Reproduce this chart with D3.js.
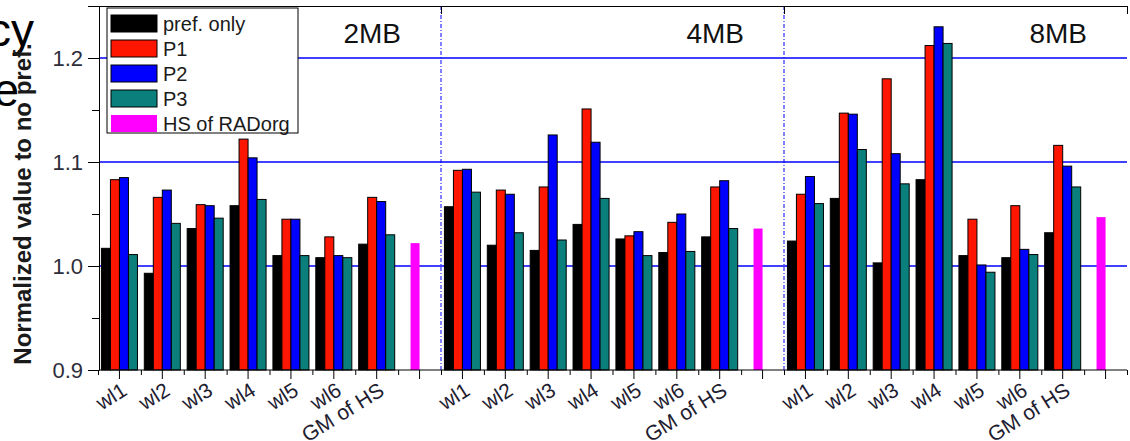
<!DOCTYPE html>
<html>
<head>
<meta charset="utf-8">
<script src="https://cdn.jsdelivr.net/npm/d3@7"></script>
<style>
  body { margin: 0; background: #fff; }
  text { font-family: "Liberation Sans", Arial, sans-serif; }
</style>
</head>
<body>
<div id="chart"></div>
<script>
// cache sizes, series per workload (2MB, 4MB, 8MB blocks of 7)
const sections = ["2MB", "4MB", "8MB"];
const workloads = ["wl1", "wl2", "wl3", "wl4", "wl5", "wl6", "GM of HS"];
const seriesNames = ["pref. only", "P1", "P2", "P3"];
const hsName = "HS of RADorg";

const prefOnly = [1.017, 0.993, 1.036, 1.058, 1.010, 1.008, 1.021,
                  1.057, 1.020, 1.015, 1.040, 1.026, 1.013, 1.028,
                  1.024, 1.065, 1.003, 1.083, 1.010, 1.008, 1.032];
const p1 = [1.083, 1.066, 1.059, 1.122, 1.045, 1.028, 1.066,
            1.092, 1.073, 1.076, 1.151, 1.029, 1.042, 1.076,
            1.069, 1.147, 1.180, 1.212, 1.045, 1.058, 1.116];
const p2 = [1.085, 1.073, 1.058, 1.104, 1.045, 1.010, 1.062,
            1.093, 1.069, 1.126, 1.119, 1.033, 1.050, 1.082,
            1.086, 1.146, 1.108, 1.230, 1.001, 1.016, 1.096];
const p3 = [1.011, 1.041, 1.046, 1.064, 1.010, 1.008, 1.030,
            1.071, 1.032, 1.025, 1.065, 1.010, 1.014, 1.036,
            1.060, 1.112, 1.079, 1.214, 0.994, 1.011, 1.076];
const hsRadorg = [1.022, 1.036, 1.047];

const yMajorTicks = [0.9, 1.0, 1.1, 1.2];
const yMinorTicks = [0.95, 1.05, 1.15];
const gridValues = [1.0, 1.1, 1.2];

(function() {
    const width = 1130
    const height = 441

    const svg = d3.select("#chart")
        .append("svg")
        .attr("width", width)
        .attr("height", height)

    // leftover slide text peeking in on the left
    svg.append("text").attr("x", 34).attr("y", 46)
        .attr("text-anchor", "end").style("font-size", "46px").attr("fill", "#000").text("cy");
    svg.append("text").attr("x", 19).attr("y", 106)
        .attr("text-anchor", "end").style("font-size", "46px").attr("fill", "#000").text("e");

    // one slot per workload plus one for the HS bar, in every section
    const slots = [];
    sections.forEach(s => {
        workloads.forEach(w => slots.push(s + "|" + w));
        slots.push(s + "|HS");
    });

    const x0 = d3.scaleBand().domain(slots).range([98, 1127]);
    const x1 = d3.scaleBand().domain(seriesNames).range([0, x0.bandwidth()]).paddingOuter(0.38);
    const xLin = d3.scaleLinear().domain([0, slots.length]).range([98, 1127]);
    const y = d3.scaleLinear().domain([0.9, 1.25]).range([370, 6]);

    const color = d3.scaleOrdinal()
        .domain(seriesNames.concat([hsName]))
        .range(["#000000", "#ff1600", "#0000ff", "#0b7f7b", "#ff00ff"]);

    // build rows for the bars
    const seriesData = [prefOnly, p1, p2, p3];
    const bars = [];
    sections.forEach((s, si) => {
        workloads.forEach((w, wi) => {
            seriesNames.forEach((name, k) => {
                bars.push({slot: s + "|" + w, series: name, value: seriesData[k][si * 7 + wi]});
            });
        });
    });
    const hsBars = sections.map((s, si) => ({slot: s + "|HS", value: hsRadorg[si]}));

    // blue grid lines
    svg.selectAll(".grid")
        .data(gridValues)
        .join("line")
        .attr("x1", 99).attr("x2", 1127)
        .attr("y1", d => y(d)).attr("y2", d => y(d))
        .attr("stroke", "#0000ff")
        .attr("stroke-width", 1.3);

    // dash-dot separators between cache sizes
    svg.selectAll(".sep")
        .data(sections.slice(1))
        .join("line")
        .attr("x1", (d, i) => xLin((i + 1) * 8)).attr("x2", (d, i) => xLin((i + 1) * 8))
        .attr("y1", y(1.25)).attr("y2", y(0.9))
        .attr("stroke", "#0000ff")
        .attr("stroke-width", 1)
        .attr("stroke-dasharray", "4,2,1,2");

    // bars
    svg.selectAll(".bar")
        .data(bars)
        .join("rect")
        .attr("x", d => x0(d.slot) + x1(d.series))
        .attr("y", d => y(d.value))
        .attr("width", x1.bandwidth())
        .attr("height", d => y(0.9) - y(d.value))
        .attr("fill", d => color(d.series))
        .attr("stroke", "#000")
        .attr("stroke-width", 1);

    svg.selectAll(".hs")
        .data(hsBars)
        .join("rect")
        .attr("x", d => x0(d.slot) + x1("P1"))
        .attr("y", d => y(d.value))
        .attr("width", x1.bandwidth())
        .attr("height", d => y(0.9) - y(d.value))
        .attr("fill", color(hsName));

    // y axis
    const yAxis = svg.append("g")
        .attr("transform", "translate(99,0)")
        .call(d3.axisLeft(y)
            .tickValues(yMajorTicks.concat([1.25]))
            .tickSize(11)
            .tickSizeOuter(0)
            .tickPadding(5)
            .tickFormat(d => d > 1.24 ? "" : d3.format(".1f")(d)));
    yAxis.selectAll("text").style("font-size", "22px").attr("fill", "#2e2e3a");
    yAxis.select(".domain").attr("stroke", "#000");

    svg.append("g")
        .attr("transform", "translate(99,0)")
        .call(d3.axisLeft(y).tickValues(yMinorTicks).tickSize(7).tickFormat(""))
        .select(".domain").remove();

    // bottom axis: major ticks at slot centres, minor at slot edges
    const xAxis = svg.append("g")
        .attr("transform", "translate(0,370)")
        .call(d3.axisBottom(x0)
            .tickSize(9)
            .tickSizeOuter(0)
            .tickFormat(d => d.endsWith("|HS") ? "" : d.split("|")[1]));
    xAxis.select(".domain").remove();
    xAxis.selectAll("text")
        .attr("x", 0).attr("y", 0).attr("dy", 0)
        .attr("transform", "translate(9,24) rotate(-32)")
        .attr("text-anchor", "end")
        .attr("fill", "#1e2030")
        .style("font-size", "21px");

    svg.append("g")
        .attr("transform", "translate(0,370)")
        .call(d3.axisBottom(xLin).tickValues(d3.range(slots.length + 1)).tickSize(5).tickSizeOuter(0).tickFormat(""))
        .select(".domain").attr("d", "M99,0H1127");

    // top frame with inward ticks at section ends
    svg.append("g")
        .attr("transform", "translate(0," + y(1.25) + ")")
        .call(d3.axisTop(xLin).tickValues([8, 16, 24]).tickSize(-8).tickSizeOuter(0).tickFormat(""));

    // section labels
    svg.selectAll(".section")
        .data(sections)
        .join("text")
        .attr("x", (d, i) => xLin((i + 1) * 8) - 40)
        .attr("y", 43)
        .attr("text-anchor", "end")
        .style("font-size", "28px")
        .attr("fill", "#111")
        .text(d => d);

    // y title
    svg.append("text")
        .attr("transform", "translate(31,204) rotate(-90)")
        .attr("text-anchor", "middle")
        .style("font-size", "24px")
        .style("font-weight", "bold")
        .attr("fill", "#1a1a1a")
        .text("Normalized value to no pref.");

    // legend
    const legendItems = seriesNames.concat([hsName]);
    const legend = svg.append("g").attr("transform", "translate(107,8)");
    legend.append("rect")
        .attr("width", 191).attr("height", 125)
        .attr("fill", "#fff").attr("stroke", "#000").attr("stroke-width", 1);
    const rows = legend.selectAll(".row")
        .data(legendItems)
        .join("g")
        .attr("transform", (d, i) => "translate(4," + (7 + i * 25) + ")");
    rows.append("rect")
        .attr("width", 46).attr("height", 17)
        .attr("fill", d => color(d))
        .attr("stroke", d => d === hsName ? "none" : "#000");
    rows.append("text")
        .attr("x", 52).attr("y", 16)
        .style("font-size", "20px")
        .attr("fill", "#1a1a1a")
        .text(d => d);
})();
</script>
</body>
</html>
